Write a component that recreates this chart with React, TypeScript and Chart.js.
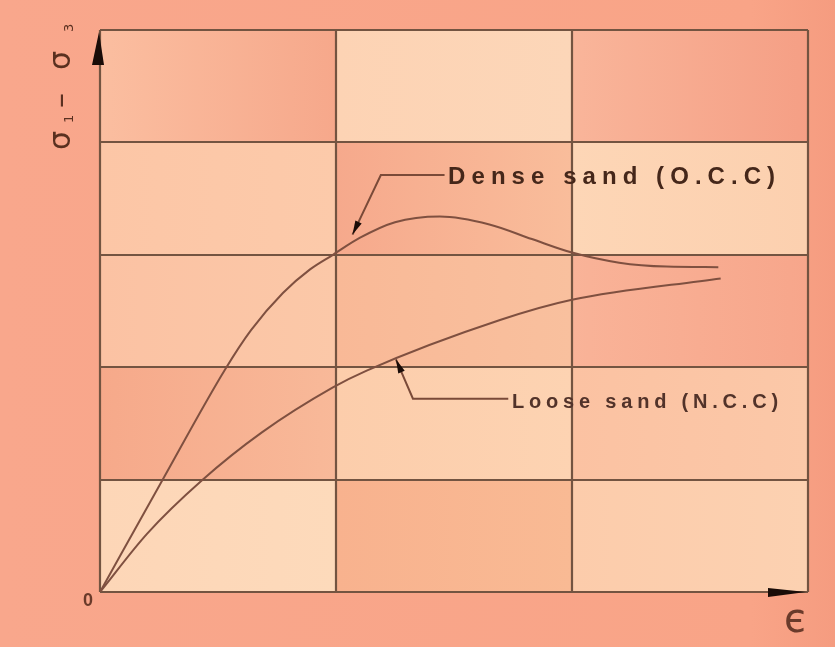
import React, { useEffect, useRef } from "react";
import { Chart, registerables } from "chart.js";

Chart.register(...registerables);

// Dense sand (O.C.C) curve – strain (grid columns) vs deviator stress (grid rows)
const denseStrain = [0, 0.263, 0.53, 0.64, 0.775, 0.89, 0.987, 1.1, 1.25, 1.44, 1.65, 1.83, 2.0, 2.2, 2.4, 2.62];
const denseStress = [0, 0.99, 1.98, 2.33, 2.66, 2.87, 3.0, 3.15, 3.29, 3.34, 3.27, 3.14, 3.02, 2.93, 2.895, 2.89];

// Loose sand (N.C.C) curve
const looseStrain = [0, 0.2, 0.43, 0.686, 0.987, 1.13, 1.695, 2.0, 2.63];
const looseStress = [0, 0.52, 0.99, 1.42, 1.82, 1.97, 2.42, 2.6, 2.79];

const xTicks = [0, 1, 2, 3];
const yTicks = [0, 1, 2, 3, 4, 5];

const denseLabel = "Dense sand (O.C.C)";
const looseLabel = "Loose sand (N.C.C)";
const originLabel = "0";
const xAxisLabel = "\u0454";

// cell colours [row from top][col] => [left, right]
const cellColors: [string, string][][] = [
  [["#fbbea0", "#f6a88b"], ["#fdd3b4", "#fcd6b8"], ["#f9b59a", "#f59f85"]],
  [["#fcc6a6", "#fccaaa"], ["#f6a98c", "#f9bd9b"], ["#fdd6b6", "#fcd0af"]],
  [["#fbc2a3", "#fbc8a8"], ["#f9b997", "#f9c09e"], ["#f9b398", "#f7a68b"]],
  [["#f6a98a", "#f8b999"], ["#fccdab", "#fdd3b2"], ["#fbc2a2", "#fbc8a8"]],
  [["#fdd6b7", "#fddabb"], ["#f8b28e", "#f9ba94"], ["#fcccab", "#fcd1b1"]],
];

const LINE = "#7f5040";
const GRID = "#735441";
const TEXT = "#45271a";

function drawSpaced(ctx: CanvasRenderingContext2D, text: string, x: number, y: number, width: number) {
  const chars = text.split("");
  const ws = chars.map((c) => ctx.measureText(c).width);
  const total = ws.reduce((a, b) => a + b, 0);
  const gap = (width - total) / (chars.length - 1);
  let cx = x;
  chars.forEach((c, i) => {
    ctx.fillText(c, cx, y);
    cx += ws[i] + gap;
  });
}

function arrowHead(ctx: CanvasRenderingContext2D, tx: number, ty: number, fx: number, fy: number, len: number, half: number) {
  const ang = Math.atan2(ty - fy, tx - fx);
  ctx.beginPath();
  ctx.moveTo(tx, ty);
  ctx.lineTo(tx - len * Math.cos(ang) + half * Math.sin(ang), ty - len * Math.sin(ang) - half * Math.cos(ang));
  ctx.lineTo(tx - len * Math.cos(ang) - half * Math.sin(ang), ty - len * Math.sin(ang) + half * Math.cos(ang));
  ctx.closePath();
  ctx.fill();
}

const decorPlugin = {
  id: "decor",
  beforeDraw(chart: any) {
    const { ctx, chartArea, scales } = chart;
    const W = chart.width, H = chart.height;
    const bg = ctx.createLinearGradient(0, 0, W, 0);
    bg.addColorStop(0, "#f9a78c");
    bg.addColorStop(0.9, "#f9a487");
    bg.addColorStop(1, "#f59c80");
    ctx.save();
    ctx.fillStyle = bg;
    ctx.fillRect(0, 0, W, H);
    const xs = scales.x, ys = scales.y;
    for (let r = 0; r < 5; r++) {
      for (let c = 0; c < 3; c++) {
        const x0 = xs.getPixelForValue(c), x1 = xs.getPixelForValue(c + 1);
        const y0 = ys.getPixelForValue(5 - r), y1 = ys.getPixelForValue(4 - r);
        const g = ctx.createLinearGradient(x0, 0, x1, 0);
        g.addColorStop(0, cellColors[r][c][0]);
        g.addColorStop(1, cellColors[r][c][1]);
        ctx.fillStyle = g;
        ctx.fillRect(x0, y0, x1 - x0, y1 - y0);
      }
    }
    ctx.strokeStyle = GRID;
    ctx.lineWidth = 2.2;
    xTicks.forEach((v) => {
      const px = Math.round(xs.getPixelForValue(v));
      ctx.beginPath();
      ctx.moveTo(px, chartArea.top);
      ctx.lineTo(px, chartArea.bottom);
      ctx.stroke();
    });
    yTicks.forEach((v) => {
      const py = Math.round(ys.getPixelForValue(v));
      ctx.beginPath();
      ctx.moveTo(chartArea.left, py);
      ctx.lineTo(chartArea.right, py);
      ctx.stroke();
    });
    ctx.restore();
  },
  afterDraw(chart: any) {
    const { ctx, scales } = chart;
    const xs = scales.x, ys = scales.y;
    const P = (x: number, y: number) => [xs.getPixelForValue(x), ys.getPixelForValue(y)];
    ctx.save();
    // axis arrows
    ctx.fillStyle = "#1a0c08";
    const [ax, ay] = P(0, 5);
    ctx.beginPath();
    ctx.moveTo(ax - 1, ay + 2);
    ctx.lineTo(ax - 8, ay + 35);
    ctx.lineTo(ax + 4, ay + 35);
    ctx.closePath();
    ctx.fill();
    const [bx, by] = P(3, 0);
    ctx.beginPath();
    ctx.moveTo(bx - 40, by - 4);
    ctx.lineTo(bx - 2, by);
    ctx.lineTo(bx - 40, by + 5);
    ctx.closePath();
    ctx.fill();

    // labels
    ctx.fillStyle = "#6a3a2a";
    ctx.font = "bold 18px 'Liberation Sans', Arial, sans-serif";
    ctx.textAlign = "center";
    ctx.textBaseline = "middle";
    const [ox, oy] = P(0, 0);
    ctx.fillText(originLabel, ox - 12, oy + 9);
    ctx.font = "40px 'DejaVu Sans', sans-serif";
    ctx.fillText(xAxisLabel, bx - 13, by + 30);

    // y label rotated
    ctx.save();
    ctx.fillStyle = "#5a3020";
    ctx.translate(ax - 30, oy - 442);
    ctx.rotate(-Math.PI / 2);
    ctx.textAlign = "left";
    ctx.textBaseline = "alphabetic";
    const big = "30px 'DejaVu Sans', sans-serif";
    const small = "13px 'DejaVu Sans', sans-serif";
    const seg = (t: string, f: string, px: number, dy: number) => {
      ctx.font = f;
      ctx.fillText(t, px, dy);
    };
    seg("\u03C3", big, 0, 0);
    seg("1", small, 27, 3);
    seg("\u2013", big, 42, 0);
    seg("\u03C3", big, 80, 0);
    seg("3", small, 118, 3);
    ctx.restore();

    // leaders
    ctx.strokeStyle = "#7a4a38";
    ctx.lineWidth = 2;
    ctx.fillStyle = "#1a0c08";
    const d1 = P(1.46, 3.71), d2 = P(1.19, 3.71), d3 = P(1.07, 3.18);
    ctx.beginPath();
    ctx.moveTo(d1[0], d1[1]);
    ctx.lineTo(d2[0], d2[1]);
    ctx.lineTo(d3[0], d3[1]);
    ctx.stroke();
    arrowHead(ctx, d3[0], d3[1], d2[0], d2[1], 14, 3.5);
    const l1 = P(1.73, 1.72), l2 = P(1.326, 1.72), l3 = P(1.254, 2.07);
    ctx.beginPath();
    ctx.moveTo(l1[0], l1[1]);
    ctx.lineTo(l2[0], l2[1]);
    ctx.lineTo(l3[0], l3[1]);
    ctx.stroke();
    arrowHead(ctx, l3[0], l3[1], l2[0], l2[1], 14, 3.5);

    // annotation texts
    ctx.fillStyle = TEXT;
    ctx.textAlign = "left";
    ctx.textBaseline = "middle";
    ctx.font = "bold 24px 'Liberation Sans', Arial, sans-serif";
    const dt = P(1.475, 3.69);
    drawSpaced(ctx, denseLabel, dt[0], dt[1], 327);
    ctx.fillStyle = "#52332a";
    ctx.font = "bold 20px 'Liberation Sans', Arial, sans-serif";
    const lt = P(1.746, 1.69);
    drawSpaced(ctx, looseLabel, lt[0], lt[1], 266);
    ctx.restore();
  },
};

export default function App() {
  const ref = useRef<HTMLCanvasElement>(null);
  useEffect(() => {
    document.body.style.margin = "0";
    const chart = new Chart(ref.current!, {
      type: "line",
      data: {
        datasets: [
          {
            label: denseLabel,
            data: denseStrain.map((x, i) => ({ x, y: denseStress[i] })),
            borderColor: LINE,
            borderWidth: 2,
            pointRadius: 0,
            cubicInterpolationMode: "monotone",
            fill: false,
          },
          {
            label: looseLabel,
            data: looseStrain.map((x, i) => ({ x, y: looseStress[i] })),
            borderColor: LINE,
            borderWidth: 2,
            pointRadius: 0,
            cubicInterpolationMode: "monotone",
            fill: false,
          },
        ],
      },
      options: {
        animation: false,
        responsive: false,
        layout: { padding: { left: 100, right: 27, top: 30, bottom: 55 } },
        plugins: { legend: { display: false }, tooltip: { enabled: false } },
        scales: {
          x: { type: "linear", min: 0, max: 3, display: false },
          y: { type: "linear", min: 0, max: 5, display: false },
        },
      },
      plugins: [decorPlugin],
    });
    return () => chart.destroy();
  }, []);
  return (
    <div style={{ width: 835, height: 647 }}>
      <canvas ref={ref} width={835} height={647} />
    </div>
  );
}
